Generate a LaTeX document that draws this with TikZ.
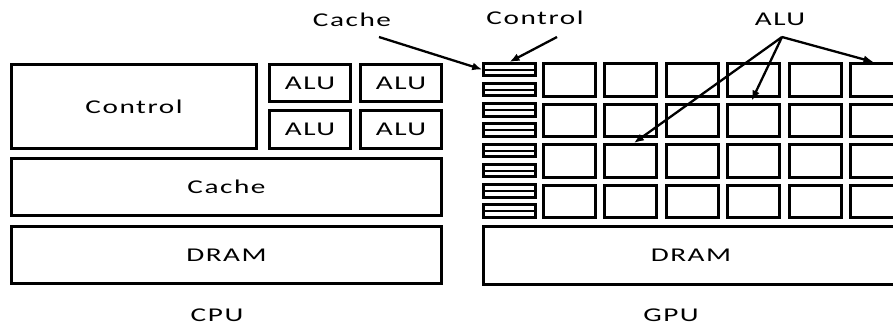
\documentclass[tikz,border=0pt]{standalone}
\usepackage{fontspec}
\setmainfont{Carlito}[FakeStretch=1.5,LetterSpace=8]
\usetikzlibrary{arrows.meta}
\begin{document}
\begin{tikzpicture}[x=1pt,y=-1pt,
  lbl/.style={font=\fontsize{19.5}{19.5}\selectfont,inner sep=0pt},
  blk/.style={draw,line width=3pt,inner sep=0pt,lbl},
  unit/.style={blk,minimum width=52pt,minimum height=32.5pt},
  ctl/.style={draw,line width=2.6pt,inner sep=0pt,minimum width=52pt,minimum height=12.5pt,
    path picture={\draw[line width=2pt] (path picture bounding box.west) -- (path picture bounding box.east);}},
  pointer/.style={line width=2.3pt,-{Latex[length=10pt,width=8pt]}}]
\useasboundingbox (0,0) rectangle (893,327);

% ---------- CPU ----------
\node[blk,minimum width=245pt,minimum height=84pt] (cctl) at (134,106.5) {Control};
\node[blk,minimum width=81pt,minimum height=37pt] (alu11) at (310,83) {ALU};
\node[blk,minimum width=81pt,minimum height=37pt] (alu12) at (401,83) {ALU};
\node[blk,minimum width=81pt,minimum height=38pt] (alu21) at (310,129.5) {ALU};
\node[blk,minimum width=81pt,minimum height=38pt] (alu22) at (401,129.5) {ALU};
\node[blk,minimum width=430pt,minimum height=57pt] (ccache) at (226.5,187) {Cache};
\node[blk,minimum width=430pt,minimum height=57pt] (cdram) at (226.5,255) {DRAM};
\node[lbl] (cpu) at (217,315) {CPU};

% ---------- GPU ----------
\foreach \r in {0,1,2,3}{
  \pgfmathsetmacro{\top}{62+40.5*\r}
  \node[ctl] (k\r a) at (509.5,\top+7.5) {};
  \node[ctl] (k\r b) at (509.5,\top+27.5) {};
  \foreach \c in {0,...,5}{
    \node[unit] (g\r\c) at (569.5+61.4*\c,\top+17.75) {};
  }
}
\node[blk,minimum width=415pt,minimum height=58pt] (gdram) at (691,255.5) {DRAM};
\node[lbl] (gpu) at (671,315) {GPU};

% ---------- callouts ----------
\node[lbl] (tcache) at (352,20) {Cache};
\node[lbl] (tctl) at (535,18) {Control};
\node[lbl] (talu) at (780,19) {ALU};
\coordinate (scache) at (379,37);
\coordinate (sctl) at (557,37);
\coordinate (salu) at (782,37);

\draw[pointer] (scache) -- (k0a.west);
\draw[pointer] (sctl) -- (k0a.north);
\draw[pointer] (salu) -- ([xshift=-3pt]g05.north);
\draw[pointer] (salu) -- ([xshift=-2pt,yshift=2pt]g13.north);
\draw[pointer] (salu) -- ([xshift=3pt]g21.north);
\end{tikzpicture}
\end{document}
